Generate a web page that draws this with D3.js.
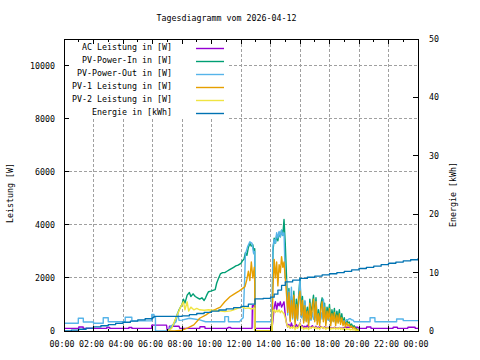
<!DOCTYPE html>
<html><head><meta charset="utf-8">
<script src="https://cdn.jsdelivr.net/npm/d3@7"></script>
<style>
body{margin:0;background:#fff}
text{font-family:"DejaVu Sans Mono",monospace;font-size:8.3px;fill:#000}
</style>
</head><body><svg id="c" width="480" height="360"></svg>
<script>
// ---------- data ----------
const title = "Tagesdiagramm vom 2026-04-12";
const timeLabels = ["00:00","02:00","04:00","06:00","08:00","10:00","12:00","14:00","16:00","18:00","20:00","22:00","00:00"];
const powerTicks = [0,2000,4000,6000,8000,10000];
const energyTicks = [0,10,20,30,40,50];
const seriesNames = ["AC Leistung in [W]","PV-Power-In in [W]","PV-Power-Out in [W]","PV-1 Leistung in [W]","PV-2 Leistung in [W]","Energie in [kWh]"];
const yLabelLeft = "Leistung [W]";
const yLabelRight = "Energie [kWh]";

// morning samples [hour, W]
const acAM = [[0,100],[1.0,100],[1.0,150],[1.3,150],[1.3,100],[2.9,100],[2.9,130],[3.1,130],[3.1,100],[4.4,100],[4.4,130],[4.6,130],[4.6,100],[5.95,100],[5.95,220],[6.95,220],[7.0,0],[7.1,0],[7.15,180],[7.8,180],[7.85,100],[9.2,100],[9.22,160],[9.55,160],[9.57,100],[11.1,100],[11.12,130],[11.3,130],[11.32,100],[12.75,100],[12.77,950],[12.9,950],[12.92,100],[14.1,100]];
const pvInAM = [[7.0,0],[7.1,50],[7.4,200],[7.6,500],[7.8,800],[8.0,1000],[8.1,1200],[8.2,1050],[8.35,1350],[8.5,1450],[8.6,1300],[8.75,1400],[8.9,1300],[9.05,1250],[9.2,1200],[9.35,1250],[9.5,1150],[9.6,1250],[9.7,1380],[9.8,1480],[9.95,1500],[10.1,1530],[10.25,1560],[10.35,1800],[10.45,1950],[10.6,2150],[10.75,2200],[10.9,2200],[11.05,2250],[11.2,2300],[11.35,2350],[11.5,2400],[11.65,2450],[11.8,2480],[12.0,2550],[12.1,2650],[12.2,2700],[12.3,2950],[12.4,2850],[12.5,3150],[12.6,3300],[12.7,3200],[12.8,3250],[12.9,2900],[12.93,3100],[12.95,0],[14.1,0]];
const pvOutAM = [[0,290],[0.97,290],[0.97,480],[1.31,480],[1.31,340],[2.0,340],[2.0,290],[2.66,290],[2.66,500],[3.0,500],[3.0,350],[4.15,350],[4.15,520],[4.6,520],[4.6,380],[5.95,380],[5.95,620],[6.1,620],[6.1,540],[6.2,540],[6.2,0],[7.1,0],[7.2,150],[7.4,250],[7.6,350],[7.7,680],[7.8,400],[8.0,410],[8.5,480],[9.2,420],[9.6,350],[10.9,350],[10.9,540],[11.15,540],[11.15,350],[11.9,350],[12.0,420],[12.15,500],[12.25,2000],[12.3,2900],[12.45,3180],[12.6,3360],[12.75,3300],[12.85,2930],[12.93,3000],[12.95,350],[14.1,350]];
const pv1AM = [[7.0,0],[7.5,0],[8.0,30],[8.4,120],[8.8,230],[9.2,480],[9.6,600],[10.0,750],[10.3,820],[10.6,900],[10.9,1100],[11.25,1290],[11.5,1380],[11.8,1480],[12.05,1580],[12.27,1670],[12.4,1950],[12.5,2250],[12.6,1900],[12.7,2600],[12.8,2000],[12.9,2400],[12.93,1800],[12.95,0],[14.1,0]];
const pv2AM = [[7.0,0],[7.3,100],[7.6,500],[7.9,900],[8.1,1100],[8.2,800],[8.35,1100],[8.45,750],[8.6,900],[8.8,800],[9.0,850],[9.2,800],[9.5,780],[9.8,800],[10.1,780],[10.5,760],[10.9,730],[11.3,760],[11.6,820],[11.9,880],[12.1,900],[12.3,850],[12.5,870],[12.7,830],[12.9,860],[12.93,860],[12.95,0],[14.1,0]];

// afternoon: 5-minute samples from 14:10 to 20:00 (W)
const pmStart = 14 + 10/60;
const pmStepMinutes = 5;
const acPM = [400,900,1100,800,1050,950,1100,900,1000,1100,600,300,
  150,250,120,300,150,200,100,250,150,200,300,
  150,200,120,180,130,220,110,160,120,200,150,120,
  180,110,150,100,170,130,110,160,100,140,120,150,
  100,130,110,140,100,120,110,130,100,120,110,130,
  140,140,140,140,140,140,140,140,140,140,140,100];
const pvInPM = [3000,3500,3300,3600,3400,3700,3550,3800,3600,4200,3300,2100,
  900,1600,500,1300,700,1500,400,1200,600,1400,2000,
  800,1300,400,1100,500,900,300,1200,600,1000,1350,500,
  1250,400,800,300,1000,1250,500,1050,300,900,600,1000,
  300,800,500,850,300,750,450,800,350,650,300,500,
  250,420,300,340,200,260,150,200,120,90,50,0];
const pvOutPM = [3200,3450,3300,3700,3500,3750,3550,3800,3600,3700,2000,1900,
  600,1500,400,1650,450,1000,350,700,400,1100,2000,
  500,700,380,1150,400,600,380,500,400,700,450,400,
  1100,400,500,380,700,450,1200,650,380,500,400,450,
  380,450,380,400,350,420,350,400,350,380,350,380,
  350,420,420,460,460,420,420,350,350,350,350,350];
const pv1PM = [1600,2700,2000,2600,1700,2500,2200,2800,2400,2600,2000,1400,
  700,1450,350,1150,500,1350,250,1000,450,1250,1500,
  600,1150,300,950,350,750,200,1050,450,850,1200,350,
  1100,250,650,200,850,1100,350,900,200,750,450,850,
  200,650,350,700,200,600,300,650,250,500,200,380,
  150,320,200,250,130,190,100,140,80,60,30,0];
const pv2PM = [750,800,700,780,720,800,690,760,700,650,500,300,
  150,200,100,150,100,200,50,150,100,150,300,
  100,150,60,120,80,130,50,150,100,140,150,80,
  150,80,120,60,140,150,90,140,60,130,90,140,
  60,120,80,130,60,120,70,130,60,110,60,100,
  50,90,60,80,40,60,40,50,30,20,10,0];

// evening samples [hour, W]
const acEve = [[20.1,100],[20.5,100],[20.52,150],[20.8,150],[20.82,100],[22.3,100],[22.32,140],[22.6,140],[22.62,100],[23.3,100],[23.32,140],[23.8,140],[23.82,100],[24,100]];
const pvOutEve = [[20.1,350],[20.75,350],[20.75,500],[21.08,500],[21.08,350],[22.55,350],[22.55,450],[23.0,450],[23.0,390],[24,390]];
const pvInEve = [], pv1Eve = [], pv2Eve = [];

// energy counter [hour, kWh]
const energy = [[0,0],[0.5,0.15],[1,0.3],[1.5,0.5],[2,0.7],[2.5,0.9],[3,1.1],[3.5,1.3],[4,1.5],[4.5,1.7],[5,1.9],[5.5,2.1],[6,2.3],[6.1,2.5],[8,2.6],[8.5,2.8],[9,3.0],[9.5,3.2],[10,3.4],[10.5,3.6],[11,3.8],[11.5,4.0],[12,4.2],[12.5,4.6],[12.95,5.5],[13.5,5.6],[14,5.8],[14.25,6.3],[14.5,7.0],[14.75,7.8],[15,8.4],[15.5,8.7],[16,9.0],[16.5,9.2],[17,9.4],[17.5,9.6],[18,9.8],[18.5,10.0],[19,10.2],[19.5,10.45],[20,10.7],[20.5,10.9],[21,11.1],[21.5,11.35],[22,11.6],[22.5,11.8],[23,12.0],[23.5,12.2],[24,12.45]];

// ---------- styles ----------
const colors = ["#9400d3","#009e73","#56b4e9","#e69f00","#f0e442","#0072b2"];

// ---------- build ----------
function joinSeries(am, pm, eve){
  return am.concat(pm.map((v,i)=>[pmStart + i*pmStepMinutes/60, v]), eve);
}
const powerSeries = [
  joinSeries(acAM, acPM, acEve),
  joinSeries(pvInAM, pvInPM, pvInEve),
  joinSeries(pvOutAM, pvOutPM, pvOutEve),
  joinSeries(pv1AM, pv1PM, pv1Eve),
  joinSeries(pv2AM, pv2PM, pv2Eve)
];

const L=64, R=418, T=39, B=331;
const svg = d3.select("#c");
const x = d3.scaleLinear().domain([0,24]).range([L,R]);
const y = d3.scaleLinear().domain([0,11000]).range([B,T]);
const y2 = d3.scaleLinear().domain([0,50]).range([B,T]);

svg.append("rect").attr("width",480).attr("height",360).attr("fill","#fff");

// title
svg.append("text").attr("x",226.5).attr("y",21).attr("text-anchor","middle").text(title);

// grid
const grid = svg.append("g").attr("stroke","#a0a0a0").attr("stroke-dasharray","3,2").attr("shape-rendering","crispEdges");
d3.range(2,24,2).forEach(h=>{
  grid.append("line").attr("x1",x(h)).attr("x2",x(h)).attr("y1",T).attr("y2",B);
});
powerTicks.filter(v=>v>0).forEach(v=>{
  grid.append("line").attr("x1",L).attr("x2",R).attr("y1",y(v)).attr("y2",y(v));
});

// data
const line = d3.line().x(d=>x(d[0])).y(d=>y(d[1]));
const dataG = svg.append("g").attr("fill","none").attr("stroke-width",1.4).attr("stroke-linejoin","round");
powerSeries.forEach((s,i)=>{
  dataG.append("path").attr("d",line(s)).attr("stroke",colors[i]);
});
const eLine = d3.line().x(d=>x(d[0])).y(d=>y2(d[1])).curve(d3.curveStepAfter);
dataG.append("path").attr("d",eLine(energy)).attr("stroke",colors[5]).attr("stroke-width",1.3);

// legend (opaque)
svg.append("rect").attr("x",L+1).attr("y",T+1).attr("width",162).attr("height",79).attr("fill","#fff");
const lg = svg.append("g");
seriesNames.forEach((n,i)=>{
  const ry = 47 + i*13;
  lg.append("text").attr("x",172).attr("y",ry+3).attr("text-anchor","end").text(n);
  lg.append("line").attr("x1",196).attr("x2",224).attr("y1",ry+1.5).attr("y2",ry+1.5)
    .attr("stroke",colors[i]).attr("stroke-width",1.4);
});

// border
svg.append("rect").attr("x",L).attr("y",T).attr("width",R-L).attr("height",B-T)
  .attr("fill","none").attr("stroke","#000").attr("shape-rendering","crispEdges");

// ticks
const tk = svg.append("g").attr("stroke","#000").attr("shape-rendering","crispEdges");
d3.range(0,25,1).forEach(h=>{
  const len = h%2===0 ? 5 : 2.5;
  tk.append("line").attr("x1",x(h)).attr("x2",x(h)).attr("y1",B).attr("y2",B-len);
  tk.append("line").attr("x1",x(h)).attr("x2",x(h)).attr("y1",T).attr("y2",T+len);
});
powerTicks.forEach(v=>{
  tk.append("line").attr("x1",L).attr("x2",L+5).attr("y1",y(v)).attr("y2",y(v));
});
energyTicks.forEach(v=>{
  tk.append("line").attr("x1",R).attr("x2",R-5).attr("y1",y2(v)).attr("y2",y2(v));
});

// tick labels
timeLabels.forEach((t,i)=>{
  svg.append("text").attr("x",x(i*2)-2).attr("y",347).attr("text-anchor","middle").text(t);
});
powerTicks.forEach(v=>{
  svg.append("text").attr("x",55).attr("y",y(v)+3).attr("text-anchor","end").text(v);
});
energyTicks.forEach(v=>{
  svg.append("text").attr("x",429).attr("y",y2(v)+3).attr("text-anchor","start").text(v);
});

// axis titles
svg.append("text").attr("transform","translate(13,223) rotate(-90)").attr("text-anchor","start").text(yLabelLeft);
svg.append("text").attr("transform","translate(456,227) rotate(-90)").attr("text-anchor","start").text(yLabelRight);
</script></body></html>
